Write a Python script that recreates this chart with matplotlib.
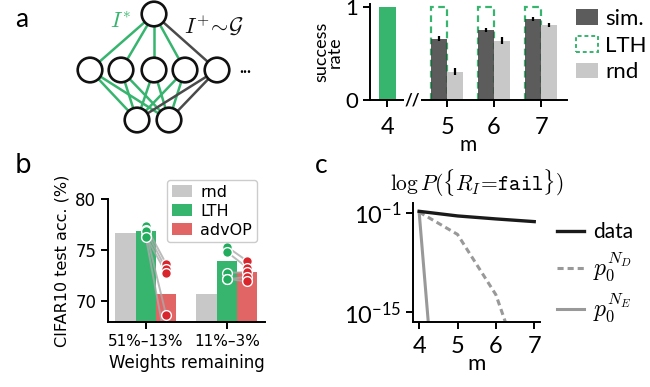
import numpy as np
import matplotlib
matplotlib.use('Agg')
import matplotlib.pyplot as plt
from matplotlib.patches import Circle, Patch
from matplotlib.lines import Line2D

SANS = 'Lato'
plt.rcParams['font.family'] = [SANS, 'DejaVu Sans']
plt.rcParams['mathtext.fontset'] = 'custom'
plt.rcParams['mathtext.rm'] = SANS
plt.rcParams['mathtext.it'] = SANS + ':italic'
plt.rcParams['axes.linewidth'] = 1.4
plt.rcParams['xtick.major.width'] = 1.4
plt.rcParams['ytick.major.width'] = 1.4
plt.rcParams['xtick.major.size'] = 5
plt.rcParams['ytick.major.size'] = 5

GREEN = '#37b56f'
DOTGREEN = '#22ad5e'
RED = '#e26565'
DOTRED = '#d8262c'
LIGHT = '#c8c8c8'
DARK = '#444444'

# ---- panel a: success rate
m_sim = [5, 6, 7]
sim_rate = [0.66, 0.755, 0.87]
sim_err = [0.025, 0.025, 0.02]
rnd_rate = [0.305, 0.64, 0.81]
rnd_err = [0.035, 0.035, 0.025]
lth_rate = [1.0, 1.0, 1.0]
m4_rate = 1.0
m_labels = ['4', '5', '6', '7']

# ---- panel b: CIFAR10 accuracy
groups = ['51%–13%', '11%–3%']
acc_rnd = [76.7, 70.7]
acc_lth = [76.85, 74.0]
acc_adv = [70.75, 72.85]
runs_lth = [[77.4, 76.95, 76.4, 76.9, 76.35],
            [75.35, 74.85, 72.8, 72.15, 72.2]]
runs_adv = [[73.7, 73.2, 72.8, 68.7, 65.7],
            [73.95, 73.3, 72.85, 72.4, 71.95]]

# ---- panel c: log P(fail)
m_c = [4, 5, 6, 7]
log_data = [-0.75, -1.4, -1.82, -2.2]
log_pND = [-0.85, -4.0, -12.5, -28.0]
log_pNE = [-0.85, -66.0, -150.0, -260.0]

W, H = 650, 387
fig = plt.figure(figsize=(W / 100, H / 100), dpi=100)


def box(l, t, r, b):
    return [l / W, 1 - b / H, (r - l) / W, (b - t) / H]


# ---------------- network sketch
axn = fig.add_axes(box(60, 0, 270, 140))
axn.set_xlim(60, 270)
axn.set_ylim(140, 0)
axn.axis('off')
top = (154, 14)
mid = [(90, 70), (121, 70), (154, 70), (185, 70), (217, 70)]
bot = [(137, 120), (169, 120)]
for i, p in enumerate(mid):
    c = GREEN if i < 4 else '#4a4a4a'
    axn.plot([top[0], p[0]], [top[1], p[1]], color=c, lw=1.8, zorder=1)
    for q in bot:
        axn.plot([p[0], q[0]], [p[1], q[1]], color=c, lw=1.8, zorder=1)
for p in [top] + mid + bot:
    axn.add_patch(Circle(p, 12.3, fc='white', ec='#111111', lw=1.9, zorder=3))
axn.text(245, 68, '...', ha='center', va='center', fontsize=12, fontweight='bold')
axn.text(120, 22, r'$I^{*}$', color=GREEN, fontsize=16, ha='center', va='center',
         math_fontfamily='cm')
axn.text(214, 25, r'$I^{+}\!\sim\!\mathcal{G}$', color='#111111', fontsize=16,
         ha='center', va='center', math_fontfamily='cm')
fig.text(15 / W, 1 - 27 / H, 'a', fontsize=19)

# ---------------- panel a bars
axa = fig.add_axes(box(370, 4, 567, 100))
x4 = 3.73
bw = 0.34
axa.bar(x4, m4_rate, width=0.36, color=GREEN, zorder=2)
xs = np.array(m_sim, dtype=float)
axa.bar(xs - bw / 2, lth_rate, width=bw, fc='none', ec=GREEN, lw=1.6,
        ls=(0, (3, 2)), zorder=1)
axa.bar(xs - bw / 2, sim_rate, width=bw, color=DARK, alpha=0.87, zorder=2)
axa.bar(xs + bw / 2, rnd_rate, width=bw, color=LIGHT, zorder=2)
axa.errorbar(xs - bw / 2, sim_rate, yerr=sim_err, fmt='none', ecolor='black',
             elinewidth=1.6, zorder=3)
axa.errorbar(xs + bw / 2, rnd_rate, yerr=rnd_err, fmt='none', ecolor='black',
             elinewidth=1.6, zorder=3)
axa.set_xlim(3.36, 7.55)
axa.set_ylim(0, 1.035)
axa.set_xticks([x4] + m_sim)
axa.set_xticklabels(m_labels, fontsize=17)
axa.tick_params(axis='x', pad=7)
axa.set_yticks([0, 1])
axa.set_yticklabels(['0', '1'], fontsize=16)
axa.spines[['top', 'right']].set_visible(False)
axa.set_xlabel('m', fontsize=15, labelpad=-2)
axa.set_ylabel('success\nrate', fontsize=13, linespacing=0.8, labelpad=2)
axa.text(4.26, 0, '//', ha='center', va='center', fontsize=12, fontweight='bold',
         bbox=dict(fc='white', ec='none', pad=0.5), zorder=5, clip_on=False)
hdl = [Patch(fc=DARK, alpha=0.87, label='sim.'),
       Patch(fc='none', ec=GREEN, ls=(0, (2, 1.5)), lw=1.4, label='LTH'),
       Patch(fc=LIGHT, label='rnd')]
fig.legend(handles=hdl, loc='upper left', bbox_to_anchor=(576 / W, 1 - 9 / H),
           frameon=False, fontsize=16, handlelength=1.0, handleheight=0.7,
           handletextpad=0.3, labelspacing=0.3, borderpad=0, borderaxespad=0)

# ---------------- panel b
axb = fig.add_axes(box(108, 199.3, 265, 321.7))
gx = np.arange(len(groups))
w = 0.25
axb.bar(gx - w, acc_rnd, width=w, color=LIGHT, label='rnd', zorder=1)
axb.bar(gx, acc_lth, width=w, color=GREEN, label='LTH', zorder=1)
axb.bar(gx + w, acc_adv, width=w, color=RED, label='advOP', zorder=1)
for g in gx:
    for a, b in zip(runs_lth[g], runs_adv[g]):
        axb.plot([g, g + w], [a, b], color='#aaaaaa', lw=1.4, alpha=0.8, zorder=2)
    axb.plot([g] * len(runs_lth[g]), runs_lth[g], 'o', ms=7, mfc=DOTGREEN,
             mec='white', mew=1.0, zorder=3)
    axb.plot([g + w] * len(runs_adv[g]), runs_adv[g], 'o', ms=7, mfc=DOTRED,
             mec='white', mew=1.0, zorder=3)
axb.set_ylim(68, 80)
axb.set_xlim(-0.465, 1.47)
axb.set_yticks([70, 75, 80])
axb.set_xticks(gx)
axb.set_xticklabels(groups, fontsize=11, family='DejaVu Sans')
for t in axb.get_yticklabels():
    t.set_fontsize(12)
    t.set_family('DejaVu Sans')
axb.spines[['top', 'right']].set_visible(False)
axb.set_ylabel('CIFAR10 test acc. (%)', fontsize=11.5, family='DejaVu Sans')
axb.set_xlabel('Weights remaining', fontsize=12, family='DejaVu Sans')
lg = axb.legend(loc='upper right', bbox_to_anchor=(1.0, 1.225),
                prop={'family': 'DejaVu Sans', 'size': 11.5}, handlelength=1.3,
                handleheight=0.8, handletextpad=0.5, labelspacing=0.25,
                borderpad=0.3, framealpha=1, edgecolor='#cccccc')
fig.text(15 / W, 1 - 173 / H, 'b', fontsize=19, family='DejaVu Sans')

# ---------------- panel c
axc = fig.add_axes(box(413, 203.3, 540, 321.7))
axc.plot(m_c, 10.0 ** np.array(log_data), color='#1a1a1a', lw=2.4, zorder=3)
axc.plot(m_c, 10.0 ** np.array(log_pND), color='#999999', lw=2.2, ls=(0, (2, 1.3)))
axc.plot(m_c, 10.0 ** np.array(log_pNE), color='#999999', lw=2.2)
axc.set_yscale('log')
axc.set_ylim(10 ** -16.3, 10 ** 0.38)
axc.set_xlim(3.84, 7.15)
axc.set_yticks([1e-1, 1e-15])
axc.set_yticklabels([r'$10^{-1}$', r'$10^{-15}$'], fontsize=17)
axc.minorticks_off()
axc.set_xticks(m_c)
axc.set_xticklabels([str(v) for v in m_c], fontsize=17)
axc.tick_params(axis='x', pad=5)
axc.spines[['top', 'right']].set_visible(False)
axc.set_xlabel('m', fontsize=16, labelpad=-2)
axc.set_title(r'$\log P(\{R_I\!=\!\mathtt{fail}\})$', fontsize=15.5,
              math_fontfamily='cm', pad=9)
hc = [Line2D([], [], color='#1a1a1a', lw=2.4, label='data'),
      Line2D([], [], color='#999999', lw=2.2, ls=(0, (2, 1.3)), label=r'$p_0^{N_D}$'),
      Line2D([], [], color='#999999', lw=2.2, label=r'$p_0^{N_E}$')]
lc = fig.legend(handles=hc, loc='upper left', bbox_to_anchor=(557 / W, 1 - 222 / H),
                frameon=False, fontsize=15, handlelength=1.3, handletextpad=0.45,
                labelspacing=0.4, borderpad=0, borderaxespad=0)
for t in lc.get_texts()[1:]:
    t.set_math_fontfamily('cm')
    t.set_fontsize(17)
fig.text(315 / W, 1 - 173 / H, 'c', fontsize=19)

fig.savefig('out.png', dpi=100)
